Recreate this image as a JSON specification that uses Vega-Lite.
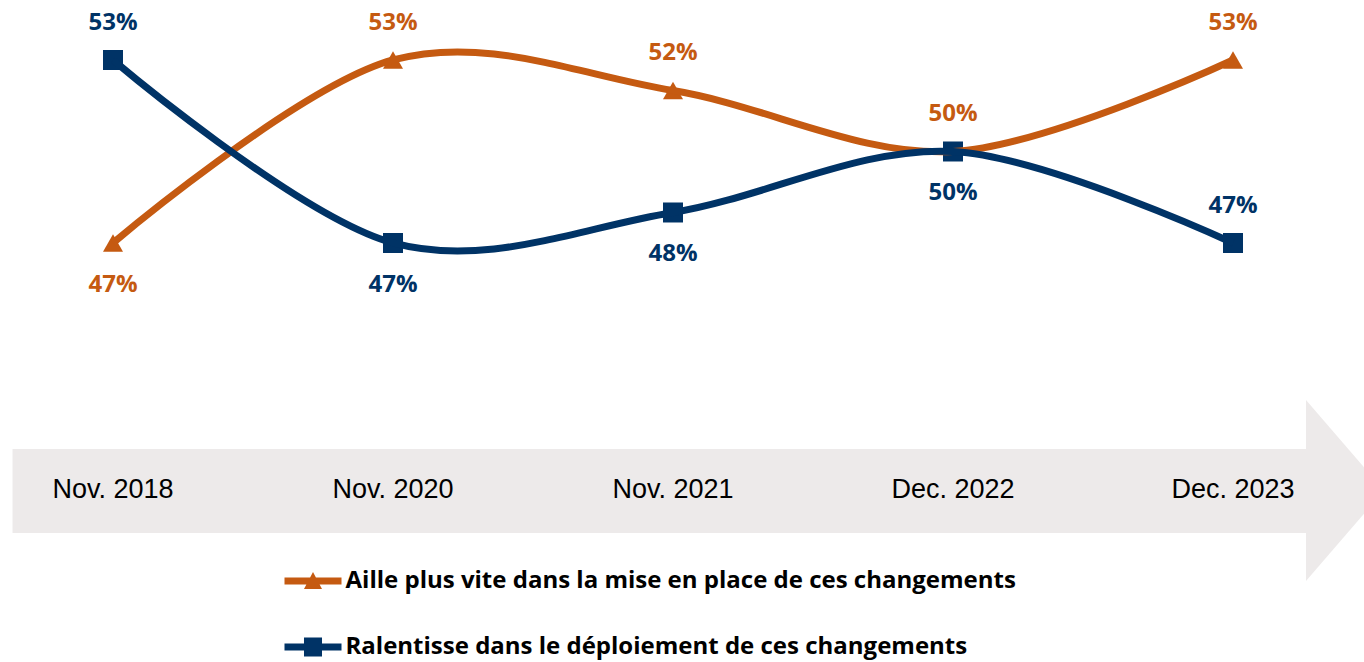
{
  "$schema": "https://vega.github.io/schema/vega-lite/v6.json",
  "width": 1364,
  "height": 662,
  "autosize": "none",
  "padding": 0,
  "background": "white",
  "config": {"view": {"stroke": null}},
  "data": {
    "values": [
      {"i": 0, "period": "Nov. 2018", "series": "Aille plus vite dans la mise en place de ces changements", "value": 0.47},
      {"i": 1, "period": "Nov. 2020", "series": "Aille plus vite dans la mise en place de ces changements", "value": 0.53},
      {"i": 2, "period": "Nov. 2021", "series": "Aille plus vite dans la mise en place de ces changements", "value": 0.52},
      {"i": 3, "period": "Dec. 2022", "series": "Aille plus vite dans la mise en place de ces changements", "value": 0.50},
      {"i": 4, "period": "Dec. 2023", "series": "Aille plus vite dans la mise en place de ces changements", "value": 0.53},
      {"i": 0, "period": "Nov. 2018", "series": "Ralentisse dans le déploiement de ces changements", "value": 0.53},
      {"i": 1, "period": "Nov. 2020", "series": "Ralentisse dans le déploiement de ces changements", "value": 0.47},
      {"i": 2, "period": "Nov. 2021", "series": "Ralentisse dans le déploiement de ces changements", "value": 0.48},
      {"i": 3, "period": "Dec. 2022", "series": "Ralentisse dans le déploiement de ces changements", "value": 0.50},
      {"i": 4, "period": "Dec. 2023", "series": "Ralentisse dans le déploiement de ces changements", "value": 0.47}
    ]
  },
  "layer": [
    {
      "data": {"values": [{}]},
      "mark": {"type": "rect", "color": "#EDEAEA"},
      "encoding": {
        "x": {"datum": -0.3589, "type": "quantitative", "scale": {"domain": [-0.40357, 4.46786], "nice": false, "zero": false}, "axis": null},
        "x2": {"datum": 4.2607},
        "y": {"datum": 0.37492, "type": "quantitative", "scale": {"domain": [0.33262, 0.54967], "nice": false, "zero": false}, "axis": null},
        "y2": {"datum": 0.40246}
      }
    },
    {
      "data": {"values": [{}]},
      "mark": {"type": "point", "shape": "M0,-1L0.862,0L0,1Z", "size": 32761, "filled": true, "color": "#EDEAEA", "opacity": 1, "clip": true},
      "encoding": {
        "x": {"datum": 4.2607, "type": "quantitative", "scale": {"domain": [-0.40357, 4.46786], "nice": false, "zero": false}, "axis": null},
        "y": {"datum": 0.38885, "type": "quantitative", "scale": {"domain": [0.33262, 0.54967], "nice": false, "zero": false}, "axis": null}
      }
    },
    {
      "transform": [{"filter": "datum.series == 'Aille plus vite dans la mise en place de ces changements'"}],
      "mark": {"type": "text", "font": "Liberation Sans", "fontSize": 27, "color": "#000000", "baseline": "middle", "align": "center"},
      "encoding": {
        "x": {"field": "i", "type": "quantitative", "scale": {"domain": [-0.40357, 4.46786], "nice": false, "zero": false}, "axis": null},
        "y": {"datum": 0.38885, "type": "quantitative", "scale": {"domain": [0.33262, 0.54967], "nice": false, "zero": false}, "axis": null},
        "text": {"field": "period"}
      }
    },
    {
      "transform": [{"filter": "datum.series == 'Aille plus vite dans la mise en place de ces changements'"}],
      "mark": {"type": "point", "filled": true, "opacity": 1, "size": 400, "shape": "triangle-up"},
      "encoding": {
        "x": {"field": "i", "type": "quantitative", "scale": {"domain": [-0.40357, 4.46786], "nice": false, "zero": false}, "axis": null},
        "y": {"field": "value", "type": "quantitative", "scale": {"domain": [0.33262, 0.54967], "nice": false, "zero": false}, "axis": null},
        "color": {
          "field": "series", "type": "nominal",
          "scale": {"domain": ["Aille plus vite dans la mise en place de ces changements", "Ralentisse dans le déploiement de ces changements"], "range": ["#C55A11", "#003366"]},
          "legend": {
            "orient": "none", "legendX": 284.5, "legendY": 552.5, "direction": "vertical", "title": null,
            "symbolType": {"expr": "datum.value == 'Aille plus vite dans la mise en place de ces changements' ? 'M-1,-0.123H1V0.123H-1Z M-0.316,0.28L0,-0.316L0.316,0.28Z' : 'M-1,-0.123H1V0.123H-1Z M-0.316,-0.33H0.316V0.33H-0.316Z'"},
            "symbolSize": 3249, "symbolStrokeWidth": 0, "symbolOpacity": 1,
            "labelFont": "Open Sans", "labelFontWeight": "bold", "labelFontSize": 24, "labelColor": "#000000",
            "labelOffset": 4, "rowPadding": 25, "padding": 0, "labelLimit": 0
          }
        }
      }
    },
    {
      "transform": [{"filter": "datum.series == 'Ralentisse dans le déploiement de ces changements'"}],
      "mark": {"type": "point", "filled": true, "opacity": 1, "size": 400, "shape": "square"},
      "encoding": {
        "x": {"field": "i", "type": "quantitative", "scale": {"domain": [-0.40357, 4.46786], "nice": false, "zero": false}, "axis": null},
        "y": {"field": "value", "type": "quantitative", "scale": {"domain": [0.33262, 0.54967], "nice": false, "zero": false}, "axis": null},
        "color": {"field": "series", "type": "nominal", "legend": null}
      }
    },
    {
      "mark": {"type": "line", "strokeWidth": 7, "interpolate": "cardinal"},
      "encoding": {
        "x": {"field": "i", "type": "quantitative", "scale": {"domain": [-0.40357, 4.46786], "nice": false, "zero": false}, "axis": null},
        "y": {"field": "value", "type": "quantitative", "scale": {"domain": [0.33262, 0.54967], "nice": false, "zero": false}, "axis": null},
        "color": {"field": "series", "type": "nominal", "legend": null}
      }
    },
    {
      "transform": [{"filter": "(datum.series == 'Aille plus vite dans la mise en place de ces changements' && datum.i > 0) || (datum.series == 'Ralentisse dans le déploiement de ces changements' && (datum.i == 0 || datum.i == 4))"}],
      "mark": {"type": "text", "font": "Open Sans", "fontWeight": "bold", "fontSize": 24, "baseline": "middle", "align": "center", "dy": -37},
      "encoding": {
        "x": {"field": "i", "type": "quantitative", "scale": {"domain": [-0.40357, 4.46786], "nice": false, "zero": false}, "axis": null},
        "y": {"field": "value", "type": "quantitative", "scale": {"domain": [0.33262, 0.54967], "nice": false, "zero": false}, "axis": null},
        "text": {"field": "value", "type": "quantitative", "format": ".0%"},
        "color": {"field": "series", "type": "nominal", "legend": null}
      }
    },
    {
      "transform": [{"filter": "!((datum.series == 'Aille plus vite dans la mise en place de ces changements' && datum.i > 0) || (datum.series == 'Ralentisse dans le déploiement de ces changements' && (datum.i == 0 || datum.i == 4)))"}],
      "mark": {"type": "text", "font": "Open Sans", "fontWeight": "bold", "fontSize": 24, "baseline": "middle", "align": "center", "dy": 42},
      "encoding": {
        "x": {"field": "i", "type": "quantitative", "scale": {"domain": [-0.40357, 4.46786], "nice": false, "zero": false}, "axis": null},
        "y": {"field": "value", "type": "quantitative", "scale": {"domain": [0.33262, 0.54967], "nice": false, "zero": false}, "axis": null},
        "text": {"field": "value", "type": "quantitative", "format": ".0%"},
        "color": {"field": "series", "type": "nominal", "legend": null}
      }
    }
  ]
}
